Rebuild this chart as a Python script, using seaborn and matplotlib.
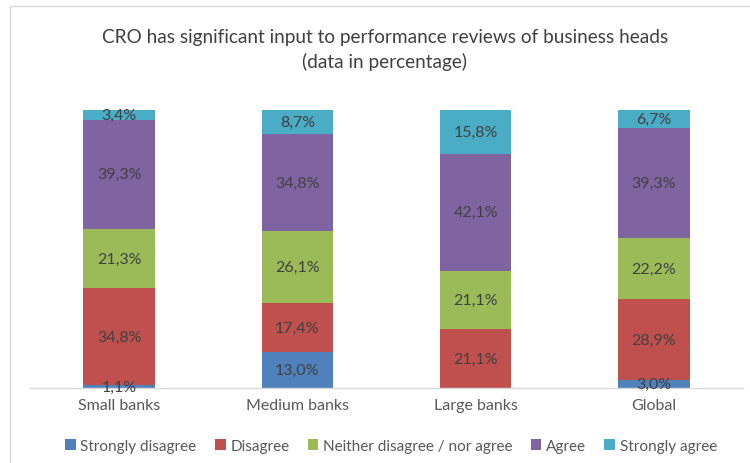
import matplotlib
matplotlib.use("Agg")
import matplotlib.pyplot as plt
from matplotlib.patches import Patch, Rectangle
import seaborn as sns
import pandas as pd
import numpy as np

categories = ["Small banks", "Medium banks", "Large banks", "Global"]
series = ["Strongly disagree", "Disagree", "Neither disagree / nor agree", "Agree", "Strongly agree"]
strongly_disagree = [1.1, 13.0, 0.0, 3.0]
disagree = [34.8, 17.4, 21.1, 28.9]
neither = [21.3, 26.1, 21.1, 22.2]
agree = [39.3, 34.8, 42.1, 39.3]
strongly_agree = [3.4, 8.7, 15.8, 6.7]
colors = ["#4F81BD", "#C0504D", "#9BBB59", "#8064A2", "#4BACC6"]

values = np.array([strongly_disagree, disagree, neither, agree, strongly_agree])
cum = values.cumsum(axis=0)

sns.set_theme(style="white")
plt.rcParams["font.family"] = ["Lato", "DejaVu Sans"]

fig = plt.figure(figsize=(7.5, 4.64), dpi=100)
ax = fig.add_axes([30 / 750, 1 - 389 / 464, 713 / 750, 278 / 464])

# stacked bars: draw cumulative totals from the top segment down
for i in range(len(series) - 1, -1, -1):
    df = pd.DataFrame({"cat": categories, "val": cum[i]})
    sns.barplot(data=df, x="cat", y="val", color=colors[i], width=0.4,
                saturation=1, ax=ax, linewidth=0)

for i in range(len(series)):
    for j, cat in enumerate(categories):
        v = values[i, j]
        if v <= 0:
            continue
        y = cum[i, j] - v / 2
        ax.text(j, y, f"{v:.1f}%".replace(".", ","), ha="center", va="center",
                fontsize=11.5, color="#404040")

ax.set_ylim(0, 100)
ax.set_xlim(-0.5, 3.5)
ax.set_xlabel("")
ax.set_ylabel("")
ax.set_yticks([])
ax.tick_params(axis="x", length=0, labelsize=11.5, labelcolor="#595959", pad=7)
for s in ["top", "right", "left"]:
    ax.spines[s].set_visible(False)
ax.spines["bottom"].set_color("#D9D9D9")
ax.spines["bottom"].set_linewidth(1)

fig.text(385 / 750, 1 - 37 / 464, "CRO has significant input to performance reviews of business heads",
         ha="center", va="center", fontsize=13.7, color="#404040")
fig.text(385 / 750, 1 - 62 / 464, "(data in percentage)",
         ha="center", va="center", fontsize=13.7, color="#404040")

handles = [Patch(facecolor=c, edgecolor="none") for c in colors]
fig.legend(handles, series, loc="center", bbox_to_anchor=(391 / 750, 1 - 447 / 464), ncol=5,
           frameon=False, fontsize=11, handlelength=0.7, handleheight=0.7,
           handletextpad=0.3, columnspacing=1.2, labelcolor="#595959")

# chart border
fig.add_artist(Rectangle((10 / 750, -0.05), 1.1, 1 - 7 / 464 + 0.05, transform=fig.transFigure,
                         fill=False, edgecolor="#D9D9D9", linewidth=1))

fig.savefig("out.png", dpi=100, facecolor="white")
